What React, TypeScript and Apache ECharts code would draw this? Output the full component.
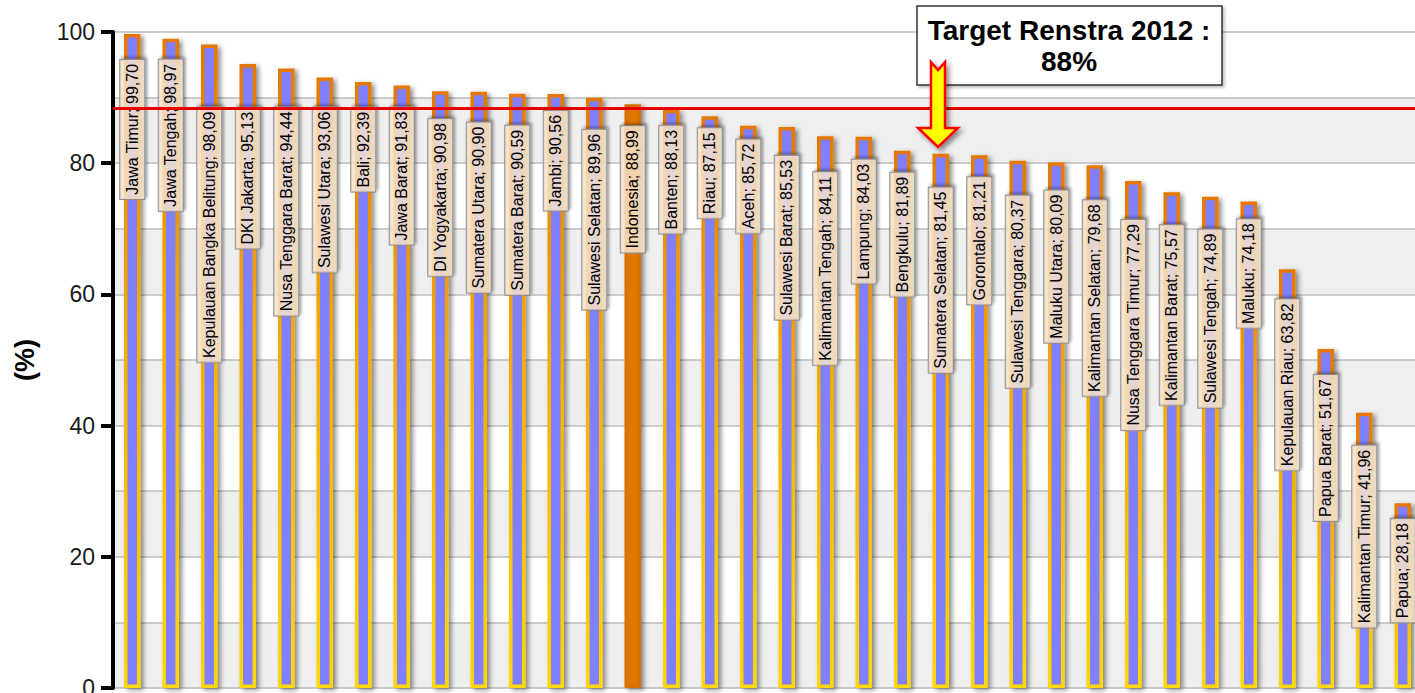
import React, { useEffect, useRef } from "react";
import * as echarts from "echarts";

// ---------- data ----------
const provinces = [
  "Jawa Timur", "Jawa Tengah", "Kepulauan Bangka Belitung", "DKI Jakarta", "Nusa Tenggara Barat",
  "Sulawesi Utara", "Bali", "Jawa Barat", "DI Yogyakarta", "Sumatera Utara", "Sumatera Barat",
  "Jambi", "Sulawesi Selatan", "Indonesia", "Banten", "Riau", "Aceh", "Sulawesi Barat",
  "Kalimantan Tengah", "Lampung", "Bengkulu", "Sumatera Selatan", "Gorontalo", "Sulawesi Tenggara",
  "Maluku Utara", "Kalimantan Selatan", "Nusa Tenggara Timur", "Kalimantan Barat", "Sulawesi Tengah",
  "Maluku", "Kepulauan Riau", "Papua Barat", "Kalimantan Timur", "Papua",
];
const values = [
  99.7, 98.97, 98.09, 95.13, 94.44, 93.06, 92.39, 91.83, 90.98, 90.9, 90.59, 90.56, 89.96, 88.99,
  88.13, 87.15, 85.72, 85.53, 84.11, 84.03, 81.89, 81.45, 81.21, 80.37, 80.09, 79.68, 77.29, 75.57,
  74.89, 74.18, 63.82, 51.67, 41.96, 28.18,
];
const highlightName = "Indonesia";
const targetText = ["Target Renstra 2012 :", "88%"];
const targetLineValue = 88.4;
const yTicks = { min: 0, max: 100, major: 20, minor: 10 };

// ---------- layout (label offsets below each bar top, px) ----------
const labelGaps = [
  30, 25, 67, 48, 43, 34, 30, 26, 32, 35, 36, 21, 36, 26, 20, 16, 18, 33, 40, 27, 26, 38, 26, 39,
  32, 39, 43, 37, 37, 22, 34, 30, 37, 20,
];

const FONT = "'Liberation Sans', Arial, Helvetica, sans-serif";

function fmt(v: number) {
  return v.toFixed(2).replace(".", ",");
}

export default function App() {
  const ref = useRef<HTMLDivElement>(null);

  useEffect(() => {
    if (!ref.current) return;
    const chart = echarts.init(ref.current, undefined, { renderer: "svg" });

    const borderGrad = new echarts.graphic.LinearGradient(0, 0, 0, 1, [
      { offset: 0, color: "#e67800" },
      { offset: 0.45, color: "#f5ac00" },
      { offset: 1, color: "#ffd800" },
    ]);

    const data = values.map((v, i) => {
      const isHi = provinces[i] === highlightName;
      return {
        value: v,
        name: provinces[i],
        itemStyle: isHi ? { color: "#e07800", borderColor: "#d86f00" } : undefined,
        label: { distance: labelGaps[i] - 4 },
      };
    });

    const option: any = {
      animation: false,
      grid: {
        left: 113,
        top: 32,
        width: 1309,
        bottom: 5,
        outerBoundsMode: "none",
        containLabel: false,
      },
      xAxis: {
        type: "category",
        data: provinces,
        axisLine: { show: false },
        axisTick: { show: false },
        axisLabel: { show: false },
        splitLine: { show: false },
      },
      yAxis: [
        {
          type: "value",
          min: yTicks.min,
          max: yTicks.max,
          interval: yTicks.minor,
          position: "left",
          axisLine: { show: false },
          axisTick: { show: false },
          axisLabel: { show: false },
          splitLine: { show: true, lineStyle: { color: "#bdbdbd", width: 1.5 } },
          splitArea: { show: true, areaStyle: { color: ["#efefef", "#ffffff"] } },
        },
        {
          type: "value",
          min: yTicks.min,
          max: yTicks.max,
          interval: yTicks.major,
          position: "left",
          axisLine: { show: true, lineStyle: { color: "#000", width: 4 } },
          axisTick: { show: true, length: 12, lineStyle: { color: "#000", width: 4 } },
          axisLabel: { fontSize: 23, color: "#1a1a1a", margin: 18, fontFamily: FONT },
          splitLine: { show: false },
          name: "(%)",
          nameLocation: "middle",
          nameGap: 75,
          nameTextStyle: { fontSize: 27, fontWeight: "bold", color: "#000", fontFamily: FONT },
        },
      ],
      series: [
        {
          type: "bar",
          yAxisIndex: 1,
          data,
          barWidth: 16.5,
          itemStyle: {
            color: "#8080ff",
            borderColor: borderGrad,
            borderWidth: 3.5,
            shadowColor: "rgba(0,0,0,0.45)",
            shadowBlur: 5,
            shadowOffsetX: 3,
            shadowOffsetY: 2,
          },
          label: {
            show: true,
            position: "insideTop",
            rotate: 90,
            align: "right",
            verticalAlign: "middle",
            formatter: (p: any) => `${p.name}; ${fmt(p.value)}`,
            fontFamily: FONT,
            fontSize: 16,
            lineHeight: 18,
            color: "#000",
            backgroundColor: "rgba(253,234,210,0.8)",
            borderColor: "#8c8c8c",
            borderWidth: 1,
            padding: [3, 4, 3, 4],
            shadowColor: "rgba(0,0,0,0.35)",
            shadowBlur: 3,
            shadowOffsetX: 2,
            shadowOffsetY: 2,
          },
          markLine: {
            silent: true,
            symbol: "none",
            label: { show: false },
            lineStyle: { color: "#e80000", width: 3, type: "solid" },
            data: [{ yAxis: targetLineValue }],
          },
        },
      ],
      graphic: [
        {
          type: "rect",
          z: 100,
          shape: { x: 917, y: 6, width: 305, height: 79 },
          style: {
            fill: "#ffffff",
            stroke: "#333333",
            lineWidth: 1.5,
            shadowColor: "rgba(0,0,0,0.25)",
            shadowBlur: 3,
            shadowOffsetX: 2,
            shadowOffsetY: 2,
          },
        },
        {
          type: "text",
          z: 101,
          x: 1069,
          y: 46,
          style: {
            text: targetText.join("\n"),
            font: `bold 28px ${FONT}`,
            fill: "#000",
            align: "center",
            verticalAlign: "middle",
            lineHeight: 31,
          },
        },
        {
          type: "polygon",
          z: 102,
          shape: {
            points: [
              [931, 62], [938, 70], [945, 62], [945, 128], [958, 128],
              [938, 147], [918, 128], [931, 128],
            ],
          },
          style: {
            fill: "#ffff00",
            stroke: "#ff0000",
            lineWidth: 2.5,
            lineJoin: "miter",
            shadowColor: "rgba(0,0,0,0.45)",
            shadowBlur: 5,
            shadowOffsetX: 3,
            shadowOffsetY: 3,
          },
        },
      ],
    };

    chart.setOption(option);
    return () => chart.dispose();
  }, []);

  return (
    <div
      ref={ref}
      style={{ position: "fixed", left: 0, top: 0, width: 1415, height: 693, background: "#fff" }}
    />
  );
}
